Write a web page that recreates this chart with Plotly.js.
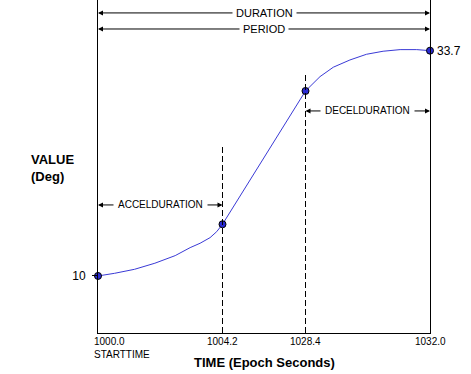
<!DOCTYPE html>
<html>
<head>
<meta charset="utf-8">
<script src="https://cdn.plot.ly/plotly-3.0.1.min.js"></script>
<style>html,body{margin:0;padding:0;background:#fff;}</style>
</head>
<body>
<div id="chart" style="width:471px;height:374px;"></div>
<script>
// Key instants (schematic position on the time axis) and their labels
const keyPos = [0, 3, 5, 8];
const timeLabels = ['1000.0', '1004.2', '1028.4', '1032.0'];
const keyValues = [10, 15.44, 29.46, 33.7];

// Profile curve (schematic time position, value in Deg)
const curvePos = [0, 0.40, 0.88, 1.37, 1.86, 2.22, 2.46, 2.70, 2.86, 3, 5, 5.35, 5.67, 6.07, 6.47, 6.87, 7.28, 7.68, 8];
const curveValue = [10, 10.28, 10.70, 11.34, 12.14, 12.98, 13.44, 14.03, 14.66, 15.44, 29.46, 30.97, 31.96, 32.72, 33.32, 33.64, 33.81, 33.81, 33.70];

// Interval arrows: [label, start index, end index, level]
const intervalNames = ['DURATION', 'PERIOD', 'ACCELDURATION', 'DECELDURATION'];
const intervalStart = [0, 0, 0, 2];
const intervalEnd = [3, 3, 1, 3];
const intervalLevel = [37.67, 35.98, 17.47, 27.36];

const FONT = 'Arial, "Liberation Sans", sans-serif';

const traces = [
  {
    x: curvePos, y: curveValue, mode: 'lines', type: 'scatter',
    line: {color: '#3a3ad6', width: 1}, hoverinfo: 'skip', cliponaxis: false
  },
  {
    x: keyPos, y: keyValues, mode: 'markers', type: 'scatter',
    marker: {color: '#2a2ad4', size: 7, line: {color: '#000', width: 1}},
    cliponaxis: false
  }
];

const dashTops = [null, 23.78, 31.36, null];
const shapes = [];
keyPos.forEach((p, i) => {
  if (dashTops[i] !== null) {
    shapes.push({type: 'line', xref: 'x', yref: 'y', x0: p, x1: p, y0: 4.0, y1: dashTops[i],
      line: {color: '#000', width: 1, dash: '6px,3px'}});
  }
});

const annotations = [];
intervalNames.forEach((name, i) => {
  const a = keyPos[intervalStart[i]], b = keyPos[intervalEnd[i]];
  const mid = (a + b) / 2, lv = intervalLevel[i];
  [a, b].forEach(end => {
    annotations.push({x: end, y: lv, ax: mid, ay: lv, axref: 'x', ayref: 'y', xref: 'x', yref: 'y',
      text: '', showarrow: true, arrowhead: 2, arrowsize: 1, arrowwidth: 1, arrowcolor: '#000', standoff: 0});
  });
});
intervalNames.forEach((name, i) => {
  const a = keyPos[intervalStart[i]], b = keyPos[intervalEnd[i]];
  const big = i < 2;
  annotations.push({x: (a + b) / 2, y: intervalLevel[i], xref: 'x', yref: 'y', text: name,
    showarrow: false, bgcolor: '#fff', borderpad: big ? 3 : 4,
    font: {family: FONT, size: big ? 11 : 10, color: '#000'}});
});
// time tick labels
timeLabels.forEach((t, i) => {
  const first = i === 0;
  annotations.push({x: keyPos[i], y: 0, xref: 'x', yref: 'paper', yanchor: 'top', yshift: -1,
    xanchor: first ? 'left' : 'center', xshift: first ? -6 : 0, align: 'left',
    text: first ? t + '<br>STARTTIME' : t,
    showarrow: false, font: {family: FONT, size: 10, color: '#000'}});
});
// end value label
annotations.push({x: keyPos[3], y: keyValues[3], xref: 'x', yref: 'y', xanchor: 'left', xshift: 5,
  text: String(keyValues[3]), showarrow: false, font: {family: FONT, size: 12, color: '#000'}});
// axis titles
annotations.push({x: 0.5, y: -0.09, xref: 'paper', yref: 'paper', yanchor: 'middle',
  text: '<b>TIME (Epoch Seconds)</b>', showarrow: false, font: {family: FONT, size: 13, color: '#000'}});
annotations.push({x: -0.207, y: (333 - 168) / 333, xref: 'paper', yref: 'paper', xanchor: 'left', yanchor: 'middle',
  align: 'left', text: '<b>VALUE<br>(Deg)</b>', showarrow: false, font: {family: FONT, size: 13, color: '#000'}});

const layout = {
  width: 471, height: 374,
  margin: {l: 98, r: 41, t: 0, b: 41, pad: 0},
  paper_bgcolor: '#fff', plot_bgcolor: '#fff',
  showlegend: false,
  xaxis: {range: [0, 8], showgrid: false, zeroline: false, showline: true, linecolor: '#000', linewidth: 1,
    showticklabels: false, ticks: '', fixedrange: true},
  yaxis: {range: [4.0, 39.03], showgrid: false, zeroline: false, showline: true, mirror: true,
    linecolor: '#000', linewidth: 1, ticks: 'outside', ticklen: 5, tickcolor: '#000',
    tickvals: [keyValues[0]], ticktext: [String(keyValues[0])], ticklabelstandoff: 4,
    tickfont: {family: FONT, size: 12, color: '#000'}, fixedrange: true},
  shapes: shapes,
  annotations: annotations
};

Plotly.newPlot('chart', traces, layout, {displayModeBar: false, staticPlot: true});
</script>
</body>
</html>
